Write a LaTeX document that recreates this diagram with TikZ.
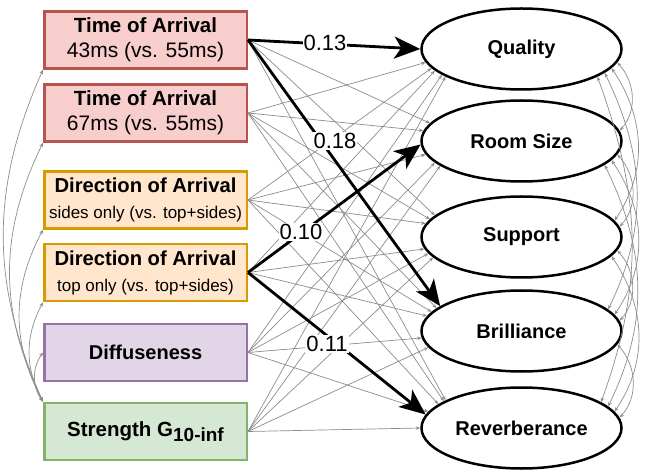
\documentclass[tikz,border=0pt]{standalone}
\usepackage{fontspec}
\setmainfont{Liberation Sans}
\usetikzlibrary{arrows.meta,shapes.geometric}
\definecolor{redfill}{HTML}{F8CECC}
\definecolor{redline}{HTML}{B85450}
\definecolor{orfill}{HTML}{FFE6CC}
\definecolor{orline}{HTML}{D79B00}
\definecolor{pufill}{HTML}{E1D5E7}
\definecolor{puline}{HTML}{9673A6}
\definecolor{grfill}{HTML}{D5E8D4}
\definecolor{grline}{HTML}{82B366}
\definecolor{thingray}{HTML}{8C8C8C}
\begin{document}
\begin{tikzpicture}[x=1pt,y=1pt,
  box/.style={draw, line width=2.5pt, minimum width=202.5pt, minimum height=57pt, inner sep=2pt, align=center},
  ell/.style={ellipse, draw, line width=2.5pt, fill=white, minimum width=200pt, minimum height=81pt, inner sep=0pt, font=\fontsize{20}{24}\selectfont\bfseries},
  thinarrow/.style={draw=thingray, line width=0.7pt, -{Stealth[length=4.5pt,width=3.5pt]}},
  cov/.style={draw=thingray, line width=0.7pt, {Stealth[length=4.5pt,width=3.5pt]}-{Stealth[length=4.5pt,width=3.5pt]}},
  boldarrow/.style={line width=2.8pt, -{Stealth[length=26pt,width=22pt,inset=7pt]}},
  coef/.style={fill=white, inner sep=1pt, font=\fontsize{22}{26}\selectfont}
]
\useasboundingbox (0,0) rectangle (660,471);

% left boxes
\node[box, fill=redfill, draw=redline, font=\fontsize{21}{25}\selectfont] (b1) at (145.5,431)
  {{\bfseries\fontsize{20.5}{25}\selectfont Time of Arrival}\\43ms (vs. 55ms)};
\node[box, fill=redfill, draw=redline, font=\fontsize{21}{25}\selectfont] (b2) at (145.5,358)
  {{\bfseries\fontsize{20.5}{25}\selectfont Time of Arrival}\\67ms (vs. 55ms)};
\node[box, fill=orfill, draw=orline, font=\fontsize{17}{26}\selectfont] (b3) at (145.5,271)
  {{\bfseries\fontsize{20.2}{26}\selectfont Direction of Arrival}\\sides only (vs. top+sides)};
\node[box, fill=orfill, draw=orline, font=\fontsize{17}{26}\selectfont] (b4) at (145.5,198.5)
  {{\bfseries\fontsize{20.2}{26}\selectfont Direction of Arrival}\\top only (vs. top+sides)};
\node[box, fill=pufill, draw=puline, font=\fontsize{20}{24}\selectfont\bfseries] (b5) at (145.5,118.5) {Diffuseness};
\node[box, fill=grfill, draw=grline, font=\fontsize{20.5}{24}\selectfont\bfseries] (b6) at (145.5,39.5)
  {Strength G\raisebox{-5pt}{\fontsize{19}{20}\selectfont 10-inf}};

% ellipses
\node[ell] (q)  at (521.5,422) {Quality};
\node[ell] (rs) at (521.5,330) {Room Size};
\node[ell] (su) at (521.5,234) {Support};
\node[ell] (br) at (521.5,140) {Brilliance};
\node[ell] (rv) at (521.5,43)  {Reverberance};

% thin regression arrows
\foreach \b/\by/\lst in {b1/431/{rs/330,su/234,rv/43},
                         b2/358/{q/422,rs/330,su/234,br/140,rv/43},
                         b3/271/{q/422,rs/330,su/234,br/140,rv/43},
                         b4/198.5/{q/422,su/234,br/140},
                         b5/118.5/{q/422,rs/330,su/234,br/140,rv/43},
                         b6/39.5/{q/422,rs/330,su/234,br/140,rv/43}}{
  \foreach \e/\ey in \lst {
    \pgfmathsetmacro\dd{\ey-\by}
    \pgfmathtruncatemacro\ang{abs(\dd)>30 ? 180+sign(\dd)*min(6+0.04*abs(\dd),20) : 180+0.2*\dd}
    \draw[thinarrow] (\b.east) -- (\e.\ang);
  }
}

% covariances among the left boxes
\draw[cov] (b6.north west) to[out=114,in=246] (b1.south west);
\draw[cov] (b6.north west) to[out=116,in=244] (b2.south west);
\draw[cov] (b6.north west) to[out=118,in=242] (b3.south west);
\draw[cov] (b6.north west) to[out=118,in=242] (b4.south west);
\draw[cov] (b6.north west) to[out=125,in=235] (b5.west);

% covariances among the ellipses
\draw[cov] (q.-8)  to[out=-48,in=48] (rs.6);
\draw[cov] (rs.-8) to[out=-48,in=48] (su.6);
\draw[cov] (su.-8) to[out=-48,in=48] (br.6);
\draw[cov] (br.-8) to[out=-48,in=48] (rv.6);
\draw[cov] (q.-12)  to[out=-56,in=56] (su.10);
\draw[cov] (rs.-12) to[out=-56,in=56] (br.10);
\draw[cov] (su.-12) to[out=-56,in=56] (rv.10);
\draw[cov] (q.-16)  to[out=-64,in=64] (br.14);
\draw[cov] (rs.-16) to[out=-64,in=64] (rv.14);
\draw[cov] (q.-20)  to[out=-70,in=70] (rv.18);

% bold arrows
\draw[boldarrow] (b1.east) -- (q.180);
\draw[boldarrow] (b1.east) -- (br.163);
\draw[boldarrow] (b4.east) -- (rs.182);
\draw[boldarrow] (b4.east) -- (rv.172);
\node[coef] (l13) at (325,428.5) {0.13};
\node[coef] (l18) at (335,330) {0.18};
\node[coef] (l10) at (301,239) {0.10};
\node[coef] (l11) at (327,127) {0.11};
\end{tikzpicture}
\end{document}
